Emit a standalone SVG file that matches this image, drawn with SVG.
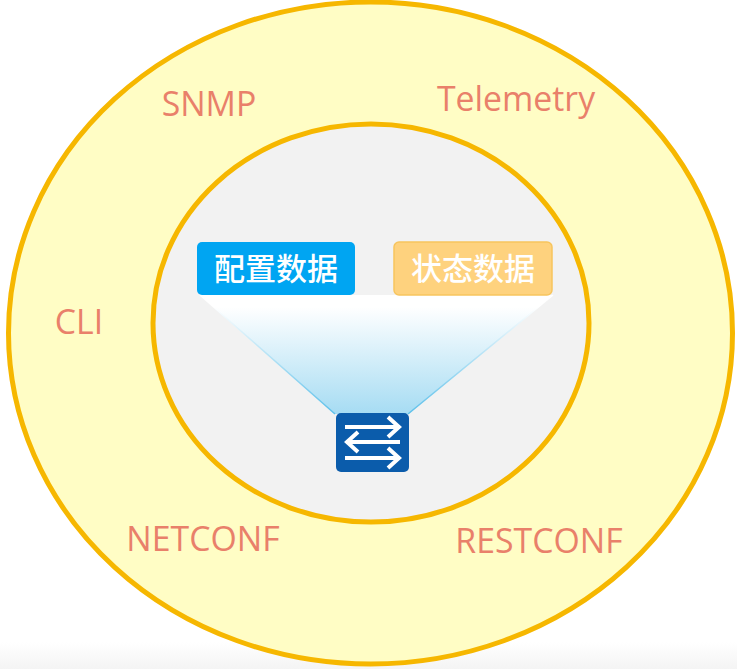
<svg xmlns="http://www.w3.org/2000/svg" width="737" height="669" viewBox="0 0 737 669">
<style>
.lbl{font-family:"Open Sans","Noto Sans",sans-serif;font-size:33.8px;fill:#e9806a;text-anchor:middle}
.cjk{font-family:"Noto Sans CJK SC",sans-serif;font-size:31px;font-weight:500;fill:#fff;text-anchor:middle}
.ar{fill:none;stroke:#fff;stroke-width:4}
</style>
<defs>
<linearGradient id="bg" x1="0" y1="0" x2="0" y2="1"><stop offset="0.96" stop-color="#fff"/><stop offset="1" stop-color="#f4f4f4"/></linearGradient>
<linearGradient id="fun" gradientUnits="userSpaceOnUse" x1="0" y1="295" x2="0" y2="414"><stop offset="0.1" stop-color="#fff"/><stop offset="1" stop-color="#a6dcf3"/></linearGradient>
<linearGradient id="edge" gradientUnits="userSpaceOnUse" x1="0" y1="295" x2="0" y2="414"><stop offset="0.1" stop-color="#fff"/><stop offset="1" stop-color="#5cc0ea"/></linearGradient>
</defs>
<rect width="737" height="669" fill="url(#bg)"/>
<g id="outer"><ellipse cx="370.5" cy="333" rx="362" ry="331" fill="#fffdc5" stroke="#f6b700" stroke-width="5"/></g>
<g id="inner"><ellipse cx="371" cy="323" rx="218" ry="199" fill="#f2f2f2" stroke="#f6b700" stroke-width="5"/></g>
<g id="snmp"><text class="lbl" x="209" y="116">SNMP</text></g>
<g id="telemetry"><text class="lbl" x="516" y="111">Telemetry</text></g>
<g id="cli"><text class="lbl" x="79" y="334">CLI</text></g>
<g id="netconf"><text class="lbl" x="203" y="551">NETCONF</text></g>
<g id="restconf"><text class="lbl" x="539" y="553">RESTCONF</text></g>
<g id="connectors"><path d="M200 295H553L408 414H335Z" fill="url(#fun)"/><path d="M200 295L335 414M553 295L408 414" fill="none" stroke="url(#edge)" stroke-width="1.5"/></g>
<g id="config"><rect x="197" y="242" width="158" height="53" rx="5" fill="#00a5f2"/><text class="cjk" x="276" y="280">配置数据</text></g>
<g id="state"><rect x="394" y="242" width="158" height="53" rx="5" fill="#fed27e" stroke="#f7c55e" stroke-width="1.5"/><text class="cjk" x="473" y="280">状态数据</text></g>
<g id="switch"><rect x="336" y="413" width="73" height="59" rx="5" fill="#0b5cab"/>
<path class="ar" d="M345 427H397M388 417L399 427L388 437M400 442H348M358 432L347 442L358 452M345 458H397M388 448L399 458L388 468"/></g>
</svg>
